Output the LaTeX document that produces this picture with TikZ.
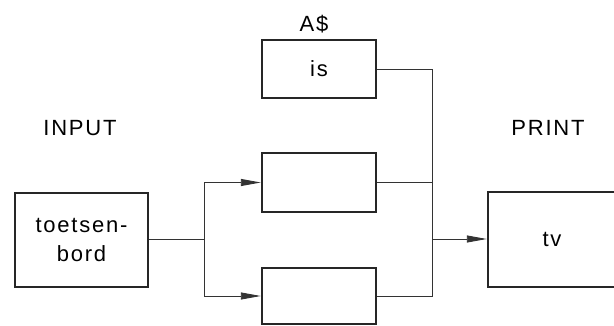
\documentclass[tikz,border=0pt]{standalone}
\usepackage{fontspec}
\setmainfont{Liberation Sans}[LetterSpace=8]
\usetikzlibrary{arrows.meta}
\begin{document}
\begin{tikzpicture}[x=1pt,y=-1pt,
  block/.style={draw=black!85,line width=2.4pt,inner sep=0pt,font=\fontsize{22}{29}\selectfont},
  label/.style={inner sep=0pt,font=\fontsize{22}{26}\selectfont},
  wire/.style={draw=black!80,line width=0.9pt},
  feed/.style={wire,-{Triangle[length=20pt,width=7pt]}}]
\useasboundingbox (0,0) rectangle (614,326);
\fill[white] (0,0) rectangle (614,326);
% blocks
\node[block,minimum width=133pt,minimum height=94pt,align=center] (kb) at (81.5,240) {toetsen-\\bord};
\node[block,minimum width=114pt,minimum height=58pt] (top) at (319,69) {is};
\node[block,minimum width=114pt,minimum height=59pt] (mid) at (319,182.5) {};
\node[block,minimum width=114pt,minimum height=56pt] (bot) at (319,296) {};
\node[block,minimum width=128pt,minimum height=95pt] (tv) at (552,239.5) {tv};
% labels
\node[label] (lin) at (80,128) {INPUT};
\node[label] (lout) at (548,128) {PRINT};
\node[label] (lvar) at (314,24) {A\$};
% junctions
\coordinate (split) at (204,239);
\coordinate (join) at (432,239);
% keyboard feeds the two lower blocks
\draw[wire] (kb.east |- split) -- (split);
\draw[feed] (split) |- (mid.west);
\draw[feed] (split) |- (bot.west);
% outputs merge into the screen
\draw[wire] (top.east) -| (join);
\draw[wire] (mid.east) -| (join);
\draw[wire] (bot.east) -| (join);
\draw[feed] (join) -- (tv.west |- join);
\end{tikzpicture}
\end{document}
